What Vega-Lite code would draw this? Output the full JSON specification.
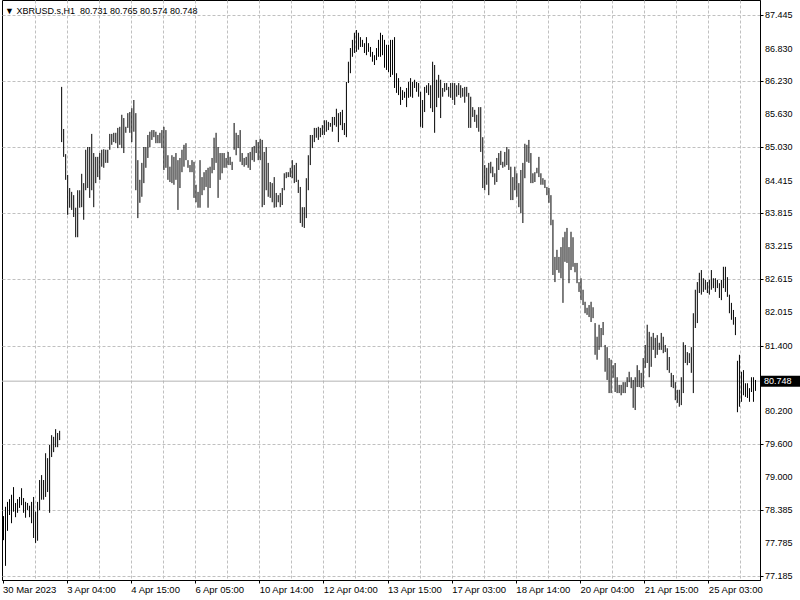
{
  "$schema": "https://vega.github.io/schema/vega-lite/v6.json",
  "width": 758,
  "height": 580,
  "autosize": "none",
  "padding": {"left": 2, "top": 0, "right": 40, "bottom": 20},
  "background": "white",
  "config": {
    "view": {"stroke": "black", "strokeWidth": 1},
    "font": "Liberation Sans, sans-serif",
    "axis": {"labelOverlap": false}
  },
  "title": {
    "text": "▼ XBRUSD.s,H1\u00a0 80.731 80.765 80.574 80.748",
    "anchor": "start",
    "frame": "group",
    "offset": -16,
    "dx": 3,
    "fontSize": 9,
    "fontWeight": "normal",
    "color": "black",
    "font": "Liberation Sans, sans-serif"
  },
  "datasets": {
    "last": [{"price": 80.748, "label": "80.748"}],
    "yticks": [
      {"v": 87.445}, {"v": 86.83}, {"v": 86.23}, {"v": 85.63}, {"v": 85.03}, {"v": 84.415},
      {"v": 83.815}, {"v": 83.215}, {"v": 82.615}, {"v": 82.015}, {"v": 81.4}, {"v": 80.2},
      {"v": 79.6}, {"v": 79.0}, {"v": 78.385}, {"v": 77.785}, {"v": 77.185}
    ],
    "bars": [
      {"t":"30 Mar 16:00","h":78.28,"l":77.84},
      {"t":"30 Mar 17:00","h":78.45,"l":77.37},
      {"t":"30 Mar 18:00","h":78.54,"l":78.01},
      {"t":"30 Mar 19:00","h":78.59,"l":78.30},
      {"t":"30 Mar 20:00","h":78.67,"l":78.15},
      {"t":"30 Mar 21:00","h":78.81,"l":78.36},
      {"t":"30 Mar 22:00","h":78.52,"l":78.26},
      {"t":"30 Mar 23:00","h":78.59,"l":78.34},
      {"t":"31 Mar 03:00","h":78.63,"l":78.43},
      {"t":"31 Mar 04:00","h":78.79,"l":78.48},
      {"t":"31 Mar 05:00","h":78.61,"l":78.34},
      {"t":"31 Mar 06:00","h":78.54,"l":78.25},
      {"t":"31 Mar 07:00","h":78.52,"l":78.39},
      {"t":"31 Mar 08:00","h":78.47,"l":78.26},
      {"t":"31 Mar 09:00","h":78.54,"l":78.15},
      {"t":"31 Mar 10:00","h":78.63,"l":77.88},
      {"t":"31 Mar 11:00","h":78.36,"l":77.79},
      {"t":"31 Mar 12:00","h":78.54,"l":77.83},
      {"t":"31 Mar 13:00","h":78.94,"l":78.39},
      {"t":"31 Mar 14:00","h":79.03,"l":78.58},
      {"t":"31 Mar 15:00","h":78.94,"l":78.58},
      {"t":"31 Mar 16:00","h":79.43,"l":78.63},
      {"t":"31 Mar 17:00","h":79.34,"l":78.72},
      {"t":"31 Mar 18:00","h":79.58,"l":78.34},
      {"t":"31 Mar 19:00","h":79.76,"l":79.36},
      {"t":"31 Mar 20:00","h":79.73,"l":79.45},
      {"t":"31 Mar 21:00","h":79.87,"l":79.54},
      {"t":"31 Mar 22:00","h":79.80,"l":79.54},
      {"t":"31 Mar 23:00","h":79.84,"l":79.67},
      {"t":"3 Apr 01:00","h":86.13,"l":85.12},
      {"t":"3 Apr 02:00","h":85.36,"l":84.85},
      {"t":"3 Apr 03:00","h":84.90,"l":84.43},
      {"t":"3 Apr 04:00","h":84.52,"l":83.79},
      {"t":"3 Apr 05:00","h":84.28,"l":83.92},
      {"t":"3 Apr 06:00","h":84.21,"l":83.88},
      {"t":"3 Apr 07:00","h":84.15,"l":83.75},
      {"t":"3 Apr 08:00","h":83.92,"l":83.38},
      {"t":"3 Apr 09:00","h":84.24,"l":83.38},
      {"t":"3 Apr 10:00","h":84.24,"l":83.92},
      {"t":"3 Apr 11:00","h":84.54,"l":83.93},
      {"t":"3 Apr 12:00","h":84.37,"l":83.70},
      {"t":"3 Apr 13:00","h":84.98,"l":84.24},
      {"t":"3 Apr 14:00","h":85.03,"l":84.28},
      {"t":"3 Apr 15:00","h":85.03,"l":84.10},
      {"t":"3 Apr 16:00","h":85.27,"l":84.24},
      {"t":"3 Apr 17:00","h":84.92,"l":83.93},
      {"t":"3 Apr 18:00","h":84.85,"l":84.37},
      {"t":"3 Apr 19:00","h":84.85,"l":84.48},
      {"t":"3 Apr 20:00","h":84.92,"l":84.43},
      {"t":"3 Apr 21:00","h":84.98,"l":84.67},
      {"t":"3 Apr 22:00","h":84.99,"l":84.65},
      {"t":"3 Apr 23:00","h":84.98,"l":84.74},
      {"t":"4 Apr 03:00","h":84.98,"l":84.74},
      {"t":"4 Apr 04:00","h":85.27,"l":84.98},
      {"t":"4 Apr 05:00","h":85.27,"l":85.07},
      {"t":"4 Apr 06:00","h":85.29,"l":85.12},
      {"t":"4 Apr 07:00","h":85.29,"l":85.10},
      {"t":"4 Apr 08:00","h":85.38,"l":85.01},
      {"t":"4 Apr 09:00","h":85.40,"l":85.07},
      {"t":"4 Apr 10:00","h":85.62,"l":85.01},
      {"t":"4 Apr 11:00","h":85.56,"l":84.92},
      {"t":"4 Apr 12:00","h":85.40,"l":85.29},
      {"t":"4 Apr 13:00","h":85.65,"l":85.38},
      {"t":"4 Apr 14:00","h":85.67,"l":85.29},
      {"t":"4 Apr 15:00","h":85.74,"l":85.12},
      {"t":"4 Apr 16:00","h":85.89,"l":85.31},
      {"t":"4 Apr 17:00","h":85.65,"l":84.24},
      {"t":"4 Apr 18:00","h":84.79,"l":83.73},
      {"t":"4 Apr 19:00","h":84.43,"l":84.01},
      {"t":"4 Apr 20:00","h":84.74,"l":84.12},
      {"t":"4 Apr 21:00","h":85.03,"l":84.37},
      {"t":"4 Apr 22:00","h":85.03,"l":84.65},
      {"t":"4 Apr 23:00","h":85.25,"l":84.83},
      {"t":"5 Apr 03:00","h":85.31,"l":85.03},
      {"t":"5 Apr 04:00","h":85.34,"l":85.16},
      {"t":"5 Apr 05:00","h":85.34,"l":85.21},
      {"t":"5 Apr 06:00","h":85.31,"l":85.10},
      {"t":"5 Apr 07:00","h":85.25,"l":85.10},
      {"t":"5 Apr 08:00","h":85.29,"l":85.10},
      {"t":"5 Apr 09:00","h":85.34,"l":85.01},
      {"t":"5 Apr 10:00","h":85.40,"l":84.61},
      {"t":"5 Apr 11:00","h":85.34,"l":84.65},
      {"t":"5 Apr 12:00","h":84.88,"l":84.43},
      {"t":"5 Apr 13:00","h":84.67,"l":84.39},
      {"t":"5 Apr 14:00","h":84.88,"l":84.37},
      {"t":"5 Apr 15:00","h":84.85,"l":84.34},
      {"t":"5 Apr 16:00","h":84.92,"l":84.43},
      {"t":"5 Apr 17:00","h":84.79,"l":83.88},
      {"t":"5 Apr 18:00","h":84.83,"l":84.28},
      {"t":"5 Apr 19:00","h":84.98,"l":84.57},
      {"t":"5 Apr 20:00","h":85.07,"l":84.67},
      {"t":"5 Apr 21:00","h":85.10,"l":84.79},
      {"t":"5 Apr 22:00","h":84.79,"l":84.65},
      {"t":"5 Apr 23:00","h":84.70,"l":84.57},
      {"t":"6 Apr 03:00","h":84.79,"l":84.57},
      {"t":"6 Apr 04:00","h":84.76,"l":84.10},
      {"t":"6 Apr 05:00","h":84.34,"l":84.02},
      {"t":"6 Apr 06:00","h":84.21,"l":83.92},
      {"t":"6 Apr 07:00","h":84.79,"l":83.92},
      {"t":"6 Apr 08:00","h":84.48,"l":84.15},
      {"t":"6 Apr 09:00","h":84.57,"l":84.24},
      {"t":"6 Apr 10:00","h":84.61,"l":84.30},
      {"t":"6 Apr 11:00","h":84.65,"l":83.92},
      {"t":"6 Apr 12:00","h":84.67,"l":84.28},
      {"t":"6 Apr 13:00","h":84.83,"l":84.55},
      {"t":"6 Apr 14:00","h":85.20,"l":84.61},
      {"t":"6 Apr 15:00","h":85.29,"l":84.74},
      {"t":"6 Apr 16:00","h":85.03,"l":84.10},
      {"t":"6 Apr 17:00","h":84.92,"l":84.43},
      {"t":"6 Apr 18:00","h":84.92,"l":84.55},
      {"t":"6 Apr 19:00","h":84.92,"l":84.65},
      {"t":"6 Apr 20:00","h":84.83,"l":84.65},
      {"t":"6 Apr 21:00","h":84.94,"l":84.70},
      {"t":"6 Apr 22:00","h":84.85,"l":84.70},
      {"t":"6 Apr 23:00","h":84.76,"l":84.61},
      {"t":"10 Apr 01:00","h":85.47,"l":84.98},
      {"t":"10 Apr 02:00","h":85.29,"l":84.88},
      {"t":"10 Apr 03:00","h":85.25,"l":85.01},
      {"t":"10 Apr 04:00","h":85.34,"l":84.76},
      {"t":"10 Apr 05:00","h":84.92,"l":84.70},
      {"t":"10 Apr 06:00","h":84.83,"l":84.67},
      {"t":"10 Apr 07:00","h":84.85,"l":84.70},
      {"t":"10 Apr 08:00","h":84.92,"l":84.65},
      {"t":"10 Apr 09:00","h":84.94,"l":84.61},
      {"t":"10 Apr 10:00","h":85.03,"l":84.79},
      {"t":"10 Apr 11:00","h":85.05,"l":84.76},
      {"t":"10 Apr 12:00","h":85.16,"l":84.92},
      {"t":"10 Apr 13:00","h":85.12,"l":84.79},
      {"t":"10 Apr 14:00","h":85.18,"l":84.79},
      {"t":"10 Apr 15:00","h":85.16,"l":83.93},
      {"t":"10 Apr 16:00","h":84.94,"l":83.97},
      {"t":"10 Apr 17:00","h":85.03,"l":84.24},
      {"t":"10 Apr 18:00","h":84.74,"l":84.12},
      {"t":"10 Apr 19:00","h":84.39,"l":84.10},
      {"t":"10 Apr 20:00","h":84.37,"l":84.02},
      {"t":"10 Apr 21:00","h":84.48,"l":83.92},
      {"t":"10 Apr 22:00","h":84.19,"l":83.93},
      {"t":"10 Apr 23:00","h":84.15,"l":84.02},
      {"t":"11 Apr 03:00","h":84.19,"l":83.93},
      {"t":"11 Apr 04:00","h":84.28,"l":83.97},
      {"t":"11 Apr 05:00","h":84.55,"l":84.24},
      {"t":"11 Apr 06:00","h":84.57,"l":84.46},
      {"t":"11 Apr 07:00","h":84.57,"l":84.48},
      {"t":"11 Apr 08:00","h":84.65,"l":84.48},
      {"t":"11 Apr 09:00","h":84.79,"l":84.46},
      {"t":"11 Apr 10:00","h":84.70,"l":84.37},
      {"t":"11 Apr 11:00","h":84.74,"l":84.39},
      {"t":"11 Apr 12:00","h":84.43,"l":84.19},
      {"t":"11 Apr 13:00","h":84.30,"l":83.64},
      {"t":"11 Apr 14:00","h":83.93,"l":83.57},
      {"t":"11 Apr 15:00","h":83.93,"l":83.55},
      {"t":"11 Apr 16:00","h":84.46,"l":83.73},
      {"t":"11 Apr 17:00","h":84.88,"l":84.24},
      {"t":"11 Apr 18:00","h":85.25,"l":84.70},
      {"t":"11 Apr 19:00","h":85.25,"l":85.01},
      {"t":"11 Apr 20:00","h":85.38,"l":85.12},
      {"t":"11 Apr 21:00","h":85.38,"l":85.20},
      {"t":"11 Apr 22:00","h":85.40,"l":85.16},
      {"t":"11 Apr 23:00","h":85.38,"l":85.21},
      {"t":"12 Apr 03:00","h":85.43,"l":85.25},
      {"t":"12 Apr 04:00","h":85.52,"l":85.25},
      {"t":"12 Apr 05:00","h":85.52,"l":85.31},
      {"t":"12 Apr 06:00","h":85.49,"l":85.34},
      {"t":"12 Apr 07:00","h":85.47,"l":85.40},
      {"t":"12 Apr 08:00","h":85.58,"l":85.31},
      {"t":"12 Apr 09:00","h":85.58,"l":85.43},
      {"t":"12 Apr 10:00","h":85.73,"l":85.40},
      {"t":"12 Apr 11:00","h":85.65,"l":85.12},
      {"t":"12 Apr 12:00","h":85.67,"l":85.43},
      {"t":"12 Apr 13:00","h":85.71,"l":85.34},
      {"t":"12 Apr 14:00","h":85.47,"l":85.25},
      {"t":"12 Apr 15:00","h":86.22,"l":85.21},
      {"t":"12 Apr 16:00","h":86.59,"l":86.20},
      {"t":"12 Apr 17:00","h":86.84,"l":86.38},
      {"t":"12 Apr 18:00","h":86.99,"l":86.68},
      {"t":"12 Apr 19:00","h":87.12,"l":86.75},
      {"t":"12 Apr 20:00","h":87.17,"l":86.77},
      {"t":"12 Apr 21:00","h":87.12,"l":86.81},
      {"t":"12 Apr 22:00","h":87.04,"l":86.86},
      {"t":"12 Apr 23:00","h":86.99,"l":86.86},
      {"t":"13 Apr 03:00","h":86.93,"l":86.75},
      {"t":"13 Apr 04:00","h":87.04,"l":86.71},
      {"t":"13 Apr 05:00","h":86.93,"l":86.77},
      {"t":"13 Apr 06:00","h":86.86,"l":86.68},
      {"t":"13 Apr 07:00","h":86.77,"l":86.59},
      {"t":"13 Apr 08:00","h":86.71,"l":86.53},
      {"t":"13 Apr 09:00","h":86.84,"l":86.62},
      {"t":"13 Apr 10:00","h":86.99,"l":86.68},
      {"t":"13 Apr 11:00","h":87.12,"l":86.68},
      {"t":"13 Apr 12:00","h":87.08,"l":86.71},
      {"t":"13 Apr 13:00","h":86.99,"l":86.48},
      {"t":"13 Apr 14:00","h":86.90,"l":86.44},
      {"t":"13 Apr 15:00","h":86.90,"l":86.40},
      {"t":"13 Apr 16:00","h":86.99,"l":86.31},
      {"t":"13 Apr 17:00","h":86.99,"l":86.35},
      {"t":"13 Apr 18:00","h":87.04,"l":86.11},
      {"t":"13 Apr 19:00","h":86.38,"l":86.02},
      {"t":"13 Apr 20:00","h":86.29,"l":85.98},
      {"t":"13 Apr 21:00","h":86.13,"l":85.80},
      {"t":"13 Apr 22:00","h":86.07,"l":85.89},
      {"t":"13 Apr 23:00","h":86.04,"l":85.93},
      {"t":"14 Apr 03:00","h":86.11,"l":85.76},
      {"t":"14 Apr 04:00","h":86.22,"l":85.93},
      {"t":"14 Apr 05:00","h":86.29,"l":85.95},
      {"t":"14 Apr 06:00","h":86.22,"l":85.93},
      {"t":"14 Apr 07:00","h":86.26,"l":86.11},
      {"t":"14 Apr 08:00","h":86.22,"l":86.04},
      {"t":"14 Apr 09:00","h":86.20,"l":85.95},
      {"t":"14 Apr 10:00","h":86.04,"l":85.40},
      {"t":"14 Apr 11:00","h":85.89,"l":85.38},
      {"t":"14 Apr 12:00","h":86.13,"l":85.67},
      {"t":"14 Apr 13:00","h":86.16,"l":86.02},
      {"t":"14 Apr 14:00","h":86.20,"l":85.98},
      {"t":"14 Apr 15:00","h":86.16,"l":85.74},
      {"t":"14 Apr 16:00","h":86.59,"l":85.67},
      {"t":"14 Apr 17:00","h":86.53,"l":85.29},
      {"t":"14 Apr 18:00","h":86.26,"l":85.76},
      {"t":"14 Apr 19:00","h":86.35,"l":85.93},
      {"t":"14 Apr 20:00","h":86.26,"l":85.56},
      {"t":"14 Apr 21:00","h":86.11,"l":85.95},
      {"t":"14 Apr 22:00","h":86.20,"l":86.04},
      {"t":"14 Apr 23:00","h":86.20,"l":86.07},
      {"t":"17 Apr 01:00","h":86.13,"l":85.95},
      {"t":"17 Apr 02:00","h":86.20,"l":85.93},
      {"t":"17 Apr 03:00","h":86.20,"l":85.89},
      {"t":"17 Apr 04:00","h":86.20,"l":85.80},
      {"t":"17 Apr 05:00","h":86.16,"l":85.95},
      {"t":"17 Apr 06:00","h":86.20,"l":85.98},
      {"t":"17 Apr 07:00","h":86.16,"l":85.93},
      {"t":"17 Apr 08:00","h":86.11,"l":85.95},
      {"t":"17 Apr 09:00","h":86.13,"l":85.84},
      {"t":"17 Apr 10:00","h":86.13,"l":85.95},
      {"t":"17 Apr 11:00","h":86.02,"l":85.38},
      {"t":"17 Apr 12:00","h":85.95,"l":85.38},
      {"t":"17 Apr 13:00","h":85.76,"l":85.58},
      {"t":"17 Apr 14:00","h":85.71,"l":85.49},
      {"t":"17 Apr 15:00","h":85.62,"l":85.38},
      {"t":"17 Apr 16:00","h":85.76,"l":85.31},
      {"t":"17 Apr 17:00","h":85.76,"l":84.94},
      {"t":"17 Apr 18:00","h":85.21,"l":84.28},
      {"t":"17 Apr 19:00","h":84.70,"l":84.24},
      {"t":"17 Apr 20:00","h":84.65,"l":84.34},
      {"t":"17 Apr 21:00","h":84.74,"l":84.15},
      {"t":"17 Apr 22:00","h":84.76,"l":84.55},
      {"t":"17 Apr 23:00","h":84.67,"l":84.48},
      {"t":"18 Apr 03:00","h":84.55,"l":84.34},
      {"t":"18 Apr 04:00","h":84.83,"l":84.39},
      {"t":"18 Apr 05:00","h":84.92,"l":84.61},
      {"t":"18 Apr 06:00","h":84.96,"l":84.70},
      {"t":"18 Apr 07:00","h":84.76,"l":84.65},
      {"t":"18 Apr 08:00","h":84.94,"l":84.67},
      {"t":"18 Apr 09:00","h":85.03,"l":84.70},
      {"t":"18 Apr 10:00","h":84.99,"l":84.61},
      {"t":"18 Apr 11:00","h":84.67,"l":84.06},
      {"t":"18 Apr 12:00","h":84.48,"l":84.06},
      {"t":"18 Apr 13:00","h":84.67,"l":84.24},
      {"t":"18 Apr 14:00","h":84.55,"l":84.12},
      {"t":"18 Apr 15:00","h":84.37,"l":83.93},
      {"t":"18 Apr 16:00","h":84.61,"l":83.82},
      {"t":"18 Apr 17:00","h":84.74,"l":83.64},
      {"t":"18 Apr 18:00","h":85.09,"l":84.46},
      {"t":"18 Apr 19:00","h":85.07,"l":84.76},
      {"t":"18 Apr 20:00","h":85.16,"l":84.74},
      {"t":"18 Apr 21:00","h":84.92,"l":84.37},
      {"t":"18 Apr 22:00","h":84.55,"l":84.37},
      {"t":"18 Apr 23:00","h":84.57,"l":84.39},
      {"t":"19 Apr 03:00","h":84.65,"l":84.55},
      {"t":"19 Apr 04:00","h":84.85,"l":84.48},
      {"t":"19 Apr 05:00","h":84.55,"l":84.34},
      {"t":"19 Apr 06:00","h":84.46,"l":84.34},
      {"t":"19 Apr 07:00","h":84.43,"l":84.28},
      {"t":"19 Apr 08:00","h":84.30,"l":84.15},
      {"t":"19 Apr 09:00","h":84.28,"l":84.01},
      {"t":"19 Apr 10:00","h":84.15,"l":83.60},
      {"t":"19 Apr 11:00","h":83.70,"l":82.69},
      {"t":"19 Apr 12:00","h":83.02,"l":82.56},
      {"t":"19 Apr 13:00","h":83.15,"l":82.78},
      {"t":"19 Apr 14:00","h":83.02,"l":82.73},
      {"t":"19 Apr 15:00","h":83.20,"l":82.63},
      {"t":"19 Apr 16:00","h":83.38,"l":82.18},
      {"t":"19 Apr 17:00","h":83.48,"l":82.93},
      {"t":"19 Apr 18:00","h":83.55,"l":82.91},
      {"t":"19 Apr 19:00","h":83.20,"l":82.54},
      {"t":"19 Apr 20:00","h":83.48,"l":82.78},
      {"t":"19 Apr 21:00","h":83.38,"l":82.84},
      {"t":"19 Apr 22:00","h":82.91,"l":82.74},
      {"t":"19 Apr 23:00","h":82.91,"l":82.54},
      {"t":"20 Apr 03:00","h":82.56,"l":82.38},
      {"t":"20 Apr 04:00","h":82.63,"l":82.23},
      {"t":"20 Apr 05:00","h":82.42,"l":82.14},
      {"t":"20 Apr 06:00","h":82.20,"l":81.99},
      {"t":"20 Apr 07:00","h":82.09,"l":81.96},
      {"t":"20 Apr 08:00","h":82.14,"l":81.92},
      {"t":"20 Apr 09:00","h":82.20,"l":81.83},
      {"t":"20 Apr 10:00","h":82.10,"l":81.90},
      {"t":"20 Apr 11:00","h":81.81,"l":81.23},
      {"t":"20 Apr 12:00","h":81.56,"l":81.14},
      {"t":"20 Apr 13:00","h":81.78,"l":81.32},
      {"t":"20 Apr 14:00","h":81.72,"l":81.37},
      {"t":"20 Apr 15:00","h":81.83,"l":81.59},
      {"t":"20 Apr 16:00","h":81.41,"l":80.92},
      {"t":"20 Apr 17:00","h":81.37,"l":80.77},
      {"t":"20 Apr 18:00","h":81.17,"l":80.53},
      {"t":"20 Apr 19:00","h":81.14,"l":80.53},
      {"t":"20 Apr 20:00","h":81.04,"l":80.81},
      {"t":"20 Apr 21:00","h":81.08,"l":80.55},
      {"t":"20 Apr 22:00","h":80.82,"l":80.53},
      {"t":"20 Apr 23:00","h":80.68,"l":80.53},
      {"t":"21 Apr 03:00","h":80.68,"l":80.49},
      {"t":"21 Apr 04:00","h":80.73,"l":80.53},
      {"t":"21 Apr 05:00","h":80.73,"l":80.53},
      {"t":"21 Apr 06:00","h":80.82,"l":80.64},
      {"t":"21 Apr 07:00","h":80.92,"l":80.73},
      {"t":"21 Apr 08:00","h":80.82,"l":80.62},
      {"t":"21 Apr 09:00","h":80.77,"l":80.26},
      {"t":"21 Apr 10:00","h":80.82,"l":80.22},
      {"t":"21 Apr 11:00","h":81.04,"l":80.64},
      {"t":"21 Apr 12:00","h":80.95,"l":80.64},
      {"t":"21 Apr 13:00","h":80.90,"l":80.62},
      {"t":"21 Apr 14:00","h":81.17,"l":80.64},
      {"t":"21 Apr 15:00","h":81.41,"l":80.99},
      {"t":"21 Apr 16:00","h":81.78,"l":81.08},
      {"t":"21 Apr 17:00","h":81.65,"l":80.82},
      {"t":"21 Apr 18:00","h":81.56,"l":81.01},
      {"t":"21 Apr 19:00","h":81.63,"l":81.32},
      {"t":"21 Apr 20:00","h":81.54,"l":81.17},
      {"t":"21 Apr 21:00","h":81.59,"l":81.23},
      {"t":"21 Apr 22:00","h":81.45,"l":81.32},
      {"t":"21 Apr 23:00","h":81.63,"l":81.32},
      {"t":"24 Apr 01:00","h":81.56,"l":81.26},
      {"t":"24 Apr 02:00","h":81.41,"l":81.28},
      {"t":"24 Apr 03:00","h":81.35,"l":80.95},
      {"t":"24 Apr 04:00","h":81.19,"l":80.90},
      {"t":"24 Apr 05:00","h":80.90,"l":80.64},
      {"t":"24 Apr 06:00","h":80.86,"l":80.62},
      {"t":"24 Apr 07:00","h":80.73,"l":80.40},
      {"t":"24 Apr 08:00","h":80.59,"l":80.35},
      {"t":"24 Apr 09:00","h":80.59,"l":80.28},
      {"t":"24 Apr 10:00","h":80.82,"l":80.31},
      {"t":"24 Apr 11:00","h":81.46,"l":80.53},
      {"t":"24 Apr 12:00","h":81.41,"l":81.08},
      {"t":"24 Apr 13:00","h":81.28,"l":81.04},
      {"t":"24 Apr 14:00","h":81.26,"l":81.08},
      {"t":"24 Apr 15:00","h":81.37,"l":80.90},
      {"t":"24 Apr 16:00","h":81.99,"l":80.53},
      {"t":"24 Apr 17:00","h":82.42,"l":81.72},
      {"t":"24 Apr 18:00","h":82.56,"l":81.81},
      {"t":"24 Apr 19:00","h":82.73,"l":82.36},
      {"t":"24 Apr 20:00","h":82.78,"l":82.33},
      {"t":"24 Apr 21:00","h":82.63,"l":82.38},
      {"t":"24 Apr 22:00","h":82.60,"l":82.42},
      {"t":"24 Apr 23:00","h":82.56,"l":82.36},
      {"t":"25 Apr 03:00","h":82.60,"l":82.33},
      {"t":"25 Apr 04:00","h":82.78,"l":82.42},
      {"t":"25 Apr 05:00","h":82.63,"l":82.45},
      {"t":"25 Apr 06:00","h":82.63,"l":82.38},
      {"t":"25 Apr 07:00","h":82.60,"l":82.45},
      {"t":"25 Apr 08:00","h":82.54,"l":82.27},
      {"t":"25 Apr 09:00","h":82.60,"l":82.23},
      {"t":"25 Apr 10:00","h":82.84,"l":82.45},
      {"t":"25 Apr 11:00","h":82.84,"l":82.38},
      {"t":"25 Apr 12:00","h":82.65,"l":82.29},
      {"t":"25 Apr 13:00","h":82.33,"l":81.99},
      {"t":"25 Apr 14:00","h":82.18,"l":81.87},
      {"t":"25 Apr 15:00","h":82.05,"l":81.78},
      {"t":"25 Apr 16:00","h":81.92,"l":81.59},
      {"t":"25 Apr 17:00","h":81.12,"l":80.18},
      {"t":"25 Apr 18:00","h":81.23,"l":80.28},
      {"t":"25 Apr 19:00","h":80.92,"l":80.37},
      {"t":"25 Apr 20:00","h":80.95,"l":80.49},
      {"t":"25 Apr 21:00","h":80.71,"l":80.46},
      {"t":"25 Apr 22:00","h":80.71,"l":80.44},
      {"t":"25 Apr 23:00","h":80.62,"l":80.37},
      {"t":"26 Apr 03:00","h":80.82,"l":80.55},
      {"t":"26 Apr 04:00","h":80.82,"l":80.37},
      {"t":"26 Apr 05:00","h":80.77,"l":80.57}
    ]
  },
  "layer": [
    {
      "data": {"name": "last"},
      "mark": {"type": "rule", "color": "#b4b4b4", "strokeWidth": 1},
      "encoding": {
        "y": {
          "field": "price",
          "type": "quantitative",
          "scale": {"domain": [77.1114, 87.719], "nice": false, "zero": false},
          "axis": {
            "orient": "right",
            "title": null,
            "values": [87.445, 86.83, 86.23, 85.63, 85.03, 84.415, 83.815, 83.215, 82.615, 82.015, 81.4, 80.2, 79.6, 79.0, 78.385, 77.785, 77.185],
            "labels": false,
            "tickSize": 3,
            "tickColor": "black",
            "domainColor": "black",
            "grid": true,
            "gridColor": "#c0c0c0",
            "gridDash": [3, 2]
          }
        }
      }
    },
    {
      "data": {"name": "bars"},
      "mark": {"type": "rule", "color": "black", "strokeWidth": 1, "xOffset": 0.5},
      "encoding": {
        "x": {
          "field": "t",
          "type": "ordinal",
          "sort": null,
          "scale": {"type": "band", "paddingInner": 0, "paddingOuter": 1.5, "align": 0},
          "axis": {
            "orient": "bottom",
            "title": null,
            "values": ["30 Mar 16:00","31 Mar 11:00","3 Apr 04:00","3 Apr 20:00","4 Apr 15:00","5 Apr 10:00","6 Apr 05:00","6 Apr 21:00","10 Apr 14:00","11 Apr 09:00","12 Apr 04:00","12 Apr 20:00","13 Apr 15:00","14 Apr 10:00","17 Apr 03:00","17 Apr 19:00","18 Apr 14:00","19 Apr 09:00","20 Apr 04:00","20 Apr 20:00","21 Apr 15:00","24 Apr 08:00","25 Apr 03:00","25 Apr 19:00"],
            "labelExpr": "datum.value == '30 Mar 16:00' ? '30 Mar 2023' : (indexof(['31 Mar 11:00','3 Apr 20:00','5 Apr 10:00','6 Apr 21:00','11 Apr 09:00','12 Apr 20:00','14 Apr 10:00','17 Apr 19:00','19 Apr 09:00','20 Apr 20:00','24 Apr 08:00','25 Apr 19:00'], datum.value) >= 0 ? '' : datum.value)",
            "labelAngle": 0,
            "labelAlign": "left",
            "labelBaseline": "top",
            "labelPadding": 1,
            "labelOverlap": false,
            "labelFontSize": 9.5,
            "labelColor": "black",
            "labelFont": "Liberation Sans, sans-serif",
            "tickSize": 3,
            "tickColor": "black",
            "tickOpacity": {"condition": {"test": "indexof(['31 Mar 11:00','3 Apr 20:00','5 Apr 10:00','6 Apr 21:00','11 Apr 09:00','12 Apr 20:00','14 Apr 10:00','17 Apr 19:00','19 Apr 09:00','20 Apr 20:00','24 Apr 08:00','25 Apr 19:00'], datum.value) >= 0", "value": 0}, "value": 1},
            "domainColor": "black",
            "grid": true,
            "gridColor": "#c0c0c0",
            "gridDash": [3, 2],
            "gridOpacity": {"condition": {"test": "datum.value == '30 Mar 16:00'", "value": 0}, "value": 1}
          }
        },
        "y": {"field": "h", "type": "quantitative"},
        "y2": {"field": "l"}
      }
    },
    {
      "data": {"name": "yticks"},
      "mark": {"type": "text", "color": "black", "align": "left", "baseline": "middle", "dx": 5, "fontSize": 9, "font": "Liberation Sans, sans-serif"},
      "encoding": {
        "x": {"value": "width"},
        "y": {"field": "v", "type": "quantitative"},
        "text": {"field": "v", "type": "quantitative", "format": ".3f"}
      }
    },
    {
      "data": {"name": "last"},
      "mark": {"type": "rect", "color": "black", "xOffset": 1, "x2Offset": 40, "yOffset": -5.5, "y2Offset": 5.5},
      "encoding": {
        "x": {"value": "width"},
        "x2": {"value": "width"},
        "y": {"field": "price", "type": "quantitative"},
        "y2": {"field": "price"}
      }
    },
    {
      "data": {"name": "last"},
      "mark": {"type": "text", "color": "white", "align": "left", "baseline": "middle", "dx": 4, "fontSize": 9, "font": "Liberation Sans, sans-serif"},
      "encoding": {
        "x": {"value": "width"},
        "y": {"field": "price", "type": "quantitative"},
        "text": {"field": "label"}
      }
    }
  ]
}
